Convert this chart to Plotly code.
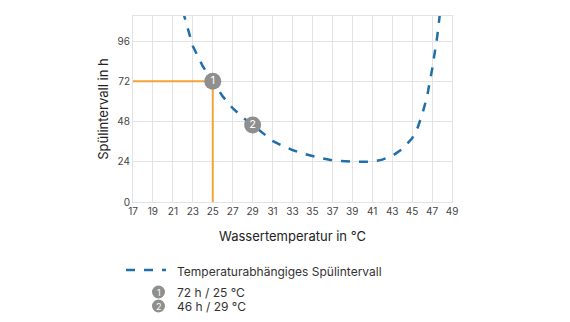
import plotly.graph_objects as go

# Data
temps = [22.0, 23.0, 24.0, 25.0, 26.0, 27.0, 28.0, 29.0, 30.0, 31.0, 32.0, 33.0, 34.0, 35.0,
         36.0, 37.0, 38.0, 39.0, 40.0, 41.0, 42.0, 43.0, 44.0, 45.0, 45.5, 46.0, 46.5, 47.0,
         47.5, 47.8, 48.0]
interval = [114, 93, 81, 72, 63, 56, 50.5, 46, 41, 36.5, 33.5, 31, 29, 27.4,
            26, 24.9, 24.3, 24, 24, 24.1, 25.3, 27.5, 31.5, 38, 43.5, 52, 63, 79,
            98, 111, 123]
point_temps = [25, 29]
point_vals = [72, 46]
point_labels = ["1", "2"]
legend_line = "Temperaturabhängiges Spülintervall"
legend_points = ["72 h / 25 °C", "46 h / 29 °C"]
x_ticks = list(range(17, 50, 2))
y_ticks = [0, 24, 48, 72, 96]

BLUE = "#1f6fab"
ORANGE = "#f3a33c"
GRAY = "#8f8f8f"
GRID = "#e3e3e3"
FONT = "Inter"

fig = go.Figure()

# orange reference lines at point 1
fig.add_trace(go.Scatter(x=[x_ticks[0], point_temps[0], point_temps[0]],
                         y=[point_vals[0], point_vals[0], 0],
                         mode="lines", line=dict(color=ORANGE, width=2),
                         hoverinfo="skip", showlegend=False, cliponaxis=True))

fig.add_trace(go.Scatter(x=temps, y=interval, mode="lines",
                         line=dict(color=BLUE, width=2.5, dash="dash"),
                         showlegend=False))

fig.add_trace(go.Scatter(x=point_temps, y=point_vals, mode="markers+text",
                         marker=dict(size=17, color=GRAY),
                         text=point_labels, textposition="middle center",
                         textfont=dict(color="white", size=11, family=FONT),
                         showlegend=False, cliponaxis=False))

W, H = 570, 322
L, R, T, B = 133, 118, 16, 120
pw, ph = W - L - R, H - T - B

def px(x):
    return (x - L) / pw

def py(y):
    return (H - B - y) / ph

shapes = []
annotations = []
# legend: dashed line sample
shapes.append(dict(type="line", xref="paper", yref="paper",
                   x0=px(126), x1=px(166), y0=py(270), y1=py(270),
                   line=dict(color=BLUE, width=2.5, dash="dash")))
annotations.append(dict(xref="paper", yref="paper", x=px(175), y=py(271),
                        text=legend_line, showarrow=False, xanchor="left",
                        yanchor="middle", font=dict(family=FONT, size=12, color="#333")))
for i, (lab, txt) in enumerate(zip(point_labels, legend_points)):
    yy = 292 + i * 14
    shapes.append(dict(type="circle", xref="paper", yref="paper",
                       x0=px(152), x1=px(165), y0=py(yy - 6.5), y1=py(yy + 6.5),
                       fillcolor=GRAY, line=dict(width=0)))
    annotations.append(dict(xref="paper", yref="paper", x=px(158.5), y=py(yy),
                            text=lab, showarrow=False, xanchor="center", yanchor="middle",
                            font=dict(family=FONT, size=9, color="white")))
    annotations.append(dict(xref="paper", yref="paper", x=px(175), y=py(yy),
                            text=txt, showarrow=False, xanchor="left", yanchor="middle",
                            font=dict(family=FONT, size=12, color="#333")))

fig.update_layout(
    width=W, height=H,
    margin=dict(l=L, r=R, t=T, b=B),
    paper_bgcolor="white", plot_bgcolor="white",
    font=dict(family=FONT, size=10, color="#444"),
    shapes=shapes, annotations=annotations,
    xaxis=dict(range=[17, 49], tickvals=x_ticks, showgrid=True, gridcolor=GRID,
               gridwidth=1, zeroline=False, showline=True, linecolor=GRID, mirror=True,
               ticks="", tickfont=dict(size=10, color="#444"),
               title=dict(text="Wassertemperatur in °C", standoff=15,
                          font=dict(size=13, color="#222"))),
    yaxis=dict(range=[0, 111], tickvals=y_ticks, showgrid=True, gridcolor=GRID,
               gridwidth=1, zeroline=False, showline=True, linecolor=GRID, mirror=True,
               ticks="", tickfont=dict(size=10, color="#444"),
               title=dict(text="Spülintervall in h", standoff=5,
                          font=dict(size=13, color="#222"))),
)

fig.write_html("out.html")
